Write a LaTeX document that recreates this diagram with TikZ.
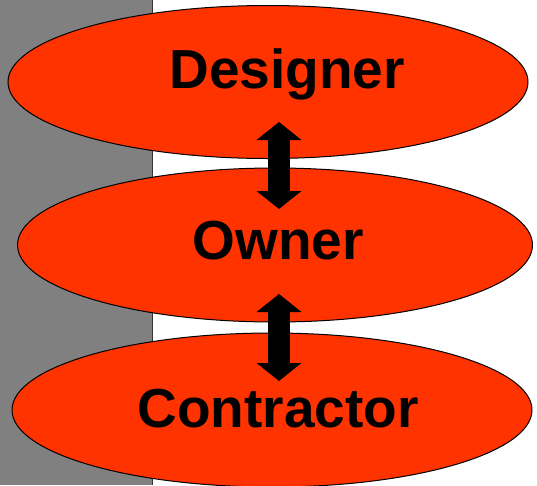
\documentclass[tikz,border=0pt]{standalone}
\usepackage{fontspec}
\setmainfont{Liberation Sans}
\usetikzlibrary{arrows.meta,shapes.geometric}
\definecolor{bubble}{HTML}{FF3300}
\definecolor{panel}{HTML}{808080}
\tikzset{
  bubble/.style={ellipse, draw=black, line width=1pt, fill=bubble, inner sep=0pt},
  label/.style={font=\fontsize{55}{60}\selectfont\bfseries, text=black, inner sep=0pt, anchor=center},
  bigarrow/.style={line width=22pt, {Triangle[width=44pt,length=18pt]}-{Triangle[width=44pt,length=18pt]}}
}
\begin{document}
\begin{tikzpicture}[x=1pt,y=-1pt]
\useasboundingbox (0,0) rectangle (537,485);
\fill[panel] (0,0) rectangle (153,485);
\draw[black!80, line width=1pt] (152.5,0) -- (152.5,485);
\node[bubble, minimum width=520pt, minimum height=153pt] (designer) at (268,82) {};
\node[bubble, minimum width=515pt, minimum height=154pt] (owner) at (275,245) {};
\node[bubble, minimum width=520pt, minimum height=154pt] (contractor) at (272,410) {};
\node[label] (tdesigner) at (287,74) {Designer};
\node[label] (towner) at (278,241) {Owner};
\node[label] (tcontractor) at (278,409) {Contractor};
\coordinate (a1) at (279,122);
\coordinate (a2) at (279,209);
\coordinate (b1) at (279,294);
\coordinate (b2) at (279,381);
\draw[bigarrow] (a1) -- (a2);
\draw[bigarrow] (b1) -- (b2);
\end{tikzpicture}
\end{document}
